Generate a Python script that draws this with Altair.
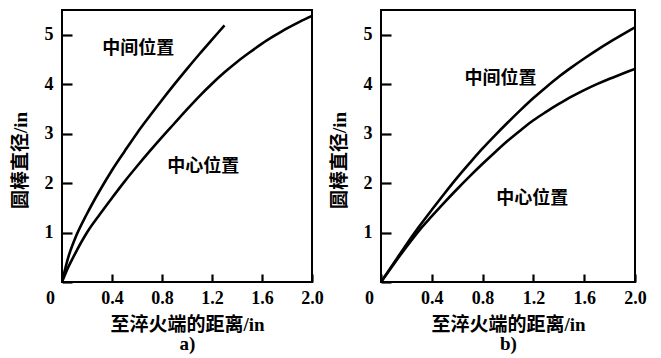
import altair as alt
import pandas as pd

# ---- data ----
# panel a)
xa_mid = [0, 0.05, 0.1, 0.2, 0.3, 0.4, 0.5, 0.6, 0.7, 0.8, 0.9, 1.0, 1.1, 1.2, 1.3]
ya_mid = [0, 0.50, 0.85, 1.38, 1.84, 2.26, 2.64, 3.01, 3.35, 3.68, 4.00, 4.31, 4.61, 4.90, 5.19]
xa_ctr = [0, 0.05, 0.1, 0.2, 0.3, 0.4, 0.5, 0.6, 0.7, 0.8, 0.9, 1.0, 1.1, 1.2, 1.3, 1.4, 1.5, 1.6, 1.7, 1.8, 1.9, 2.0]
ya_ctr = [0, 0.30, 0.55, 1.00, 1.36, 1.70, 2.03, 2.34, 2.64, 2.93, 3.21, 3.49, 3.76, 4.01, 4.24, 4.45, 4.64, 4.82, 4.98, 5.13, 5.26, 5.38]
# panel b)
xb = [0, 0.1, 0.2, 0.3, 0.4, 0.5, 0.6, 0.7, 0.8, 0.9, 1.0, 1.1, 1.2, 1.3, 1.4, 1.5, 1.6, 1.7, 1.8, 1.9, 2.0]
yb_mid = [0, 0.38, 0.76, 1.12, 1.46, 1.79, 2.11, 2.41, 2.70, 2.97, 3.23, 3.48, 3.72, 3.94, 4.15, 4.34, 4.52, 4.69, 4.85, 5.00, 5.15]
yb_ctr = [0, 0.36, 0.71, 1.04, 1.33, 1.61, 1.88, 2.14, 2.39, 2.63, 2.86, 3.07, 3.27, 3.44, 3.60, 3.75, 3.88, 4.00, 4.11, 4.21, 4.31]

series_mid = "中间位置"
series_ctr = "中心位置"

# annotation labels (data units)
ann_a_x = [0.61, 1.13]
ann_a_y = [4.72, 2.32]
ann_b_x = [0.94, 1.19]
ann_b_y = [4.10, 1.67]
ann_labels = [series_mid, series_ctr]

x_tick_values = [0, 0.4, 0.8, 1.2, 1.6, 2.0]
y_tick_values = [0, 1, 2, 3, 4, 5]

x_title = "至淬火端的距离/in"
y_title = "圆棒直径/in"

FONT = "Liberation Serif, Noto Sans CJK SC"
CJK = "Noto Sans CJK SC"

X_TICK = 8   # inward tick length (px)
Y_TICK = 10


def lines_df(x1, y1, x2, y2):
    d1 = pd.DataFrame({"x": x1, "y": y1, "s": series_mid})
    d2 = pd.DataFrame({"x": x2, "y": y2, "s": series_ctr})
    return pd.concat([d1, d2], ignore_index=True)


def panel(df, ax, ay, sub, width):
    X = alt.X(
        "x:Q",
        scale=alt.Scale(domain=[0, 2], nice=False, zero=True),
        axis=alt.Axis(
            values=x_tick_values,
            labelExpr="datum.value === 0 ? '0' : format(datum.value, '.1f')",
            labelFlush=False,
            labelOverlap=False,
            grid=False, domain=False,
            ticks=True, tickSize=X_TICK, tickWidth=2.2, tickColor="#000000",
            tickOpacity=1,
            offset=-X_TICK, zindex=2,
            labelFont=FONT, labelFontSize=18, labelFontWeight="bold",
            labelColor="black", labelPadding=7,
            labelOffset={"condition": {"test": "datum.value === 0", "value": -12}, "value": 0},
            title=[x_title, sub],
            titleFont=FONT, titleFontSize=19, titleFontWeight="bold",
            titleColor="black", titlePadding=8, titleLineHeight=19,
        ),
    )
    Y = alt.Y(
        "y:Q",
        scale=alt.Scale(domain=[0, 5.5], nice=False, zero=True),
        axis=alt.Axis(
            values=y_tick_values,
            labelExpr="datum.value === 0 ? '' : datum.label",
            grid=False, domain=False,
            ticks=True, tickSize=Y_TICK, tickWidth=2.2, tickColor="#000000",
            tickOpacity=1,
            offset=-Y_TICK, zindex=2,
            labelFont=FONT, labelFontSize=18, labelFontWeight="bold",
            labelColor="black", labelPadding=9,
            title=y_title,
            titleFont=FONT, titleFontSize=19, titleFontWeight="bold",
            titleColor="black", titlePadding=14, titleY=150,
        ),
    )
    lines = alt.Chart(df).mark_line(
        color="black", strokeWidth=2.6, interpolate="monotone", clip=True
    ).encode(x=X, y=Y, detail="s:N")

    tdf = pd.DataFrame({"x": ax, "y": ay, "label": ann_labels})
    texts = alt.Chart(tdf).mark_text(
        font=CJK, fontSize=18, fontWeight="bold", color="black"
    ).encode(x=X, y=Y, text="label:N")

    return alt.layer(lines, texts).properties(width=width, height=272)


pa = panel(lines_df(xa_mid, ya_mid, xa_ctr, ya_ctr), ann_a_x, ann_a_y, "a)", 250)
pb = panel(lines_df(xb, yb_mid, xb, yb_ctr), ann_b_x, ann_b_y, "b)", 254)

chart = (
    alt.hconcat(pa, pb, spacing=4)
    .properties(padding={"left": 2, "top": 1, "right": 5, "bottom": 0}, background="white")
    .configure_view(stroke="black", strokeWidth=2)
)

chart.save("out.html", embed_options={"renderer": "svg", "actions": False})
